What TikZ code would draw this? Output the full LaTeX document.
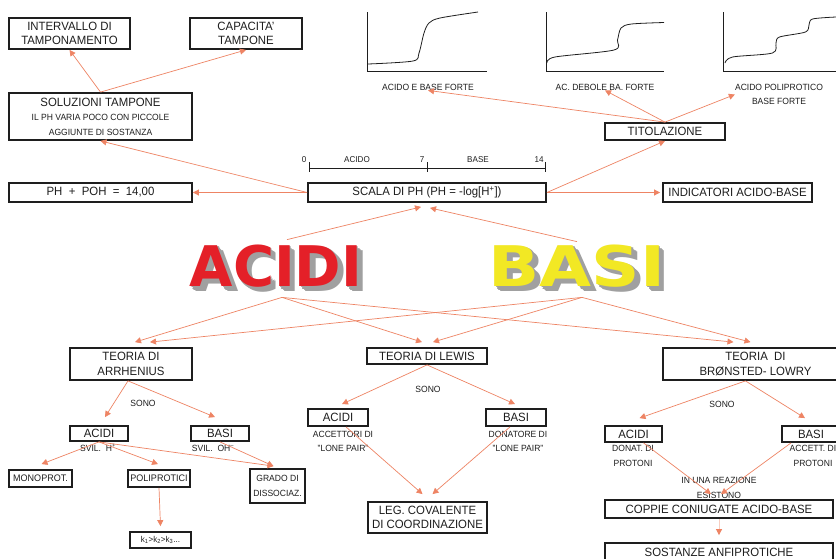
\documentclass[tikz,border=0pt]{standalone}
\usepackage{fontspec}
\setmainfont{Liberation Sans}[FakeStretch=0.95]
\newfontfamily\bigfont{DejaVu Sans}
\usepackage{tikz}
\usetikzlibrary{arrows.meta}
\usetikzlibrary{positioning}

\definecolor{arrowred}{RGB}{238,132,100}
\definecolor{acidred}{RGB}{228,32,40}
\definecolor{baseyellow}{RGB}{242,232,36}
\definecolor{shadowgray}{RGB}{160,160,160}
\definecolor{inkgray}{RGB}{30,30,30}

\tikzset{
  cbox/.style={draw=inkgray, line width=1.8pt, inner sep=0pt, align=center, text=inkgray, font=\fontsize{12}{14.5}\selectfont},
  cnote/.style={inner sep=0pt, align=center, text=inkgray, font=\fontsize{9}{14.5}\selectfont},
  carrow/.style={draw=arrowred, line width=0.7pt, -{Triangle[length=6pt,width=6pt]}},
  tcurve/.style={draw=inkgray, line width=0.8pt},
  bigword/.style={inner sep=0pt, font=\bigfont\bfseries\fontsize{56}{56}\selectfont},
}

\begin{document}
\begin{tikzpicture}[x=1pt,y=-1pt]
  \useasboundingbox (0,0) rectangle (836,558);
  \clip (0,0) rectangle (836,558);
  \fill[white] (0,0) rectangle (836,558);

  % upper part
  \node[cbox, minimum width=121pt, minimum height=31pt] (interv) at (69.5,33.5) {INTERVALLO DI\\TAMPONAMENTO};
  \node[cbox, minimum width=112pt, minimum height=31pt] (capac) at (246,33.5) {CAPACITA'\\TAMPONE};
  \node[cbox, minimum width=183pt, minimum height=47pt] (soluz) at (100.5,116.5) {SOLUZIONI TAMPONE\\{\fontsize{9}{15}\selectfont IL PH VARIA POCO CON PICCOLE\hspace*{20pt}}\\{\fontsize{9}{15}\selectfont AGGIUNTE DI SOSTANZA}};
  \node[cbox, minimum width=183pt, minimum height=19pt] (phpoh) at (100.5,192.5) {PH~~+~~POH~~=~~14,00};
  \node[cbox, minimum width=238pt, minimum height=19pt] (scala) at (427,192.5) {SCALA DI PH (PH = -log[H\textsuperscript{+}])};
  \node[cbox, minimum width=149pt, minimum height=19pt] (indic) at (737.5,192.5) {INDICATORI ACIDO-BASE};
  \node[cbox, minimum width=120pt, minimum height=17pt] (titol) at (665,131.5) {TITOLAZIONE};

  % titration curves
  \draw[tcurve] (367,12) -- (367,71) -- (487,71);
  \draw[tcurve] plot[smooth] coordinates {(368,64) (413,61) (419,53) (424,33) (429,23) (440,18) (478,12)};
  \draw[tcurve] (546,12) -- (546,71) -- (664,71);
  \draw[tcurve] plot[smooth] coordinates {(547,63) (555,57) (614,50) (617.5,40) (621,28) (631.5,24) (664,22.5)};
  \draw[tcurve] (723,12) -- (723,71) -- (840,71);
  \draw[tcurve] plot[smooth] coordinates {(725,63) (732.5,57) (772.5,53) (776,43) (779.5,37) (805.5,32) (809,25) (812.5,19) (836,17)};
  \node[cnote] (lab1) at (428,87) {ACIDO E BASE FORTE};
  \node[cnote] (lab2) at (605,87) {AC. DEBOLE BA. FORTE};
  \node[cnote] (lab3) at (779,94.5) {ACIDO POLIPROTICO\\BASE FORTE};

  % pH scale
  \draw[inkgray, line width=0.9pt] (309,168) -- (545,168);
  \foreach \t in {309,427,545}
    \draw[inkgray, line width=0.9pt] (\t,162) -- (\t,172);
  \node[cnote, font=\fontsize{8.5}{10}\selectfont] (s0) at (304,160) {0};
  \node[cnote, font=\fontsize{8.5}{10}\selectfont] (sacid) at (357,160) {ACIDO};
  \node[cnote, font=\fontsize{8.5}{10}\selectfont] (s7) at (422,160) {7};
  \node[cnote, font=\fontsize{8.5}{10}\selectfont] (sbase) at (478,160) {BASE};
  \node[cnote, font=\fontsize{8.5}{10}\selectfont] (s14) at (539,160) {14};

  % big words
  \foreach \d in {1,...,4}
    \node[bigword, text=shadowgray] at ({276+1.4*\d},{266+1.4*\d}) {ACIDI};
  \node[bigword, text=acidred] (acidi) at (276,266) {ACIDI};
  \foreach \d in {1,...,4}
    \node[bigword, text=shadowgray, xscale=1.2, transform shape] at ({577+1.4*\d},{266+1.4*\d}) {BASI};
  \node[bigword, text=baseyellow, xscale=1.2, transform shape] (basi) at (577,266) {BASI};
  \coordinate (acidtop) at ([xshift=11pt,yshift=5pt]acidi.north);
  \coordinate (basitop) at ([xshift=0pt,yshift=3pt]basi.north);
  \coordinate (acidbot) at ([xshift=6pt,yshift=-10pt]acidi.south);
  \coordinate (basibot) at ([xshift=5pt,yshift=-10pt]basi.south);

  % lower part
  \node[cbox, minimum width=122pt, minimum height=32pt] (arrh) at (131,364) {TEORIA DI\\ARRHENIUS};
  \node[cbox, minimum width=120pt, minimum height=16pt] (lewis) at (427,356) {TEORIA DI LEWIS};
  \node[cbox, minimum width=185pt, minimum height=32pt] (bronst) at (755.5,364) {TEORIA~~DI\\BRØNSTED- LOWRY};

  \node[cnote] (sono1) at (143,403) {SONO};
  \node[cbox, minimum width=58pt, minimum height=15pt] (aacid) at (99,433.5) {ACIDI};
  \node[cbox, minimum width=58pt, minimum height=15pt] (abasi) at (220,433.5) {BASI};
  \node[cnote] (svilh) at (98,448) {SVIL.~~H\textsuperscript{+}};
  \node[cnote] (sviloh) at (213,448) {SVIL.~~OH\textsuperscript{--}};
  \node[cbox, font=\fontsize{9.5}{12}\selectfont, minimum width=63pt, minimum height=17pt] (monop) at (40.5,478.5) {MONOPROT.};
  \node[cbox, font=\fontsize{9.5}{12}\selectfont, minimum width=62pt, minimum height=17pt] (polip) at (159,478.5) {POLIPROTICI};
  \node[cbox, font=\fontsize{9}{15}\selectfont, minimum width=55pt, minimum height=34pt] (grado) at (277.5,486) {GRADO DI\\DISSOCIAZ.};
  \node[cbox, font=\fontsize{8.5}{10}\selectfont, minimum width=61pt, minimum height=16pt] (kbox) at (160.5,540) {k\textsubscript{1}>k\textsubscript{2}>k\textsubscript{3}...};

  \node[cnote] (sono2) at (428,389) {SONO};
  \node[cbox, minimum width=60pt, minimum height=17pt] (lacid) at (338,417.5) {ACIDI};
  \node[cbox, minimum width=60pt, minimum height=17pt] (lbasi) at (516,417.5) {BASI};
  \node[cnote] (accett) at (343,441.5) {ACCETTORI DI\\"LONE PAIR"};
  \node[cnote] (donat) at (518,441.5) {DONATORE DI\\"LONE PAIR"};
  \node[cbox, minimum width=119pt, minimum height=31pt] (legcov) at (427.5,517.5) {LEG. COVALENTE\\DI COORDINAZIONE};

  \node[cnote] (sono3) at (722,404) {SONO};
  \node[cbox, minimum width=57pt, minimum height=16pt] (bacid) at (633.5,434) {ACIDI};
  \node[cbox, minimum width=58pt, minimum height=16pt] (bbasi) at (811,434) {BASI};
  \node[cnote] (donpr) at (633,456) {DONAT. DI\\PROTONI};
  \node[cnote] (accpr) at (813,456) {ACCETT. DI\\PROTONI};
  \node[cnote] (reaz) at (719,488) {IN UNA REAZIONE\\ESISTONO};
  \node[cbox, minimum width=228pt, minimum height=18pt] (coppie) at (719,509) {COPPIE CONIUGATE ACIDO-BASE};
  \node[cbox, minimum width=228pt, minimum height=19pt] (sost) at (719,552.5) {SOSTANZE ANFIPROTICHE};

  % connectors
  \draw[carrow] (soluz.north) -- (interv.south);
  \draw[carrow] (soluz.north) -- (capac.south);
  \draw[carrow] (scala.west) -- (soluz.south);
  \draw[carrow] (scala.west) -- (phpoh.east);
  \draw[carrow] (scala.east) -- (titol.south);
  \draw[carrow, shorten >=2pt] (scala.east) -- (indic.west);
  \draw[carrow] (titol.north) -- (lab1.south);
  \draw[carrow] (titol.north) -- (lab2.south);
  \draw[carrow] (titol.north) -- (lab3.west);
  \draw[carrow] (acidtop) -- ([xshift=-6pt,yshift=-4pt]scala.south);
  \draw[carrow] (basitop) -- ([xshift=3pt,yshift=-5pt]scala.south);
  \foreach \t/\a/\b in {arrh/4/19, lewis/-5/6, bronst/-22/-5} {
    \draw[carrow] (acidbot) -- ([xshift=\a pt,yshift=5pt]\t.north);
    \draw[carrow] (basibot) -- ([xshift=\b pt,yshift=5pt]\t.north);
  }
  \draw[carrow] ([xshift=-3pt]arrh.south) -- ([xshift=6pt,yshift=8pt]aacid.north);
  \draw[carrow] ([xshift=-3pt]arrh.south) -- ([xshift=-5pt,yshift=8pt]abasi.north);
  \draw[carrow] (aacid.south) -- ([xshift=1pt,yshift=5pt]monop.north);
  \draw[carrow] (aacid.south) -- ([xshift=-1pt,yshift=5pt]polip.north);
  \draw[carrow] (aacid.south) -- ([xshift=-4pt,yshift=2pt]grado.north);
  \draw[carrow] (abasi.south) -- ([xshift=-4pt,yshift=2pt]grado.north);
  \draw[carrow] (polip.south) -- ([yshift=5pt]kbox.north);
  \draw[carrow] (lewis.south) -- ([xshift=4pt,yshift=4pt]lacid.north);
  \draw[carrow] (lewis.south) -- ([xshift=-1pt,yshift=4pt]lbasi.north);
  \draw[carrow] ([xshift=8pt]lacid.south) -- ([xshift=-5pt,yshift=7pt]legcov.north);
  \draw[carrow] ([xshift=-6pt]lbasi.south) -- ([xshift=5pt,yshift=7pt]legcov.north);
  \draw[carrow] ([xshift=-10pt]bronst.south) -- ([xshift=6pt,yshift=7pt]bacid.north);
  \draw[carrow] ([xshift=-10pt]bronst.south) -- ([xshift=-6pt,yshift=7pt]bbasi.north);
  \draw[carrow] ([xshift=10pt]bacid.south) -- ([xshift=-8pt,yshift=5pt]coppie.north);
  \draw[carrow] ([xshift=-20pt]bbasi.south) -- ([xshift=2pt,yshift=5pt]coppie.north);
  \draw[carrow, draw=arrowred!40, -{Triangle[length=6pt,width=6pt,color=arrowred]}] (coppie.south) -- ([yshift=7pt]sost.north);
\end{tikzpicture}
\end{document}
